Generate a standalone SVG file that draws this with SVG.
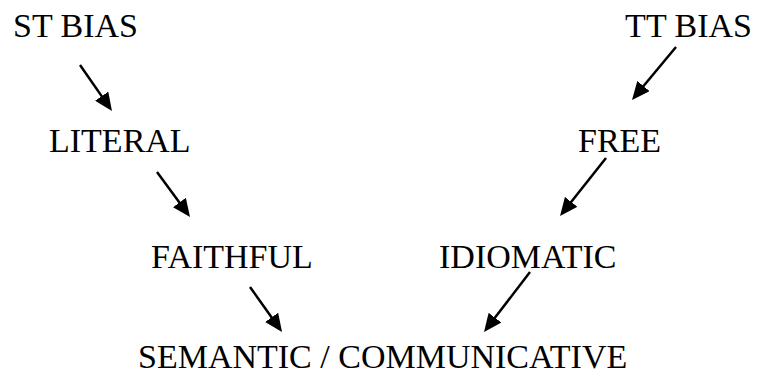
<svg xmlns="http://www.w3.org/2000/svg" width="758" height="385" viewBox="0 0 758 385">
<style>
text{font-family:"Liberation Serif","Times New Roman",serif;font-size:34px;fill:#000}
.c line{stroke:#000;stroke-width:2.5;marker-end:url(#ah)}
</style>
<defs>
<marker id="ah" markerUnits="userSpaceOnUse" markerWidth="18" markerHeight="16" refX="10" refY="8" orient="auto">
<path d="M0,0 L18,8 L0,16 z" fill="#000"/>
</marker>
</defs>
<rect width="758" height="385" fill="#fff"/>
<g id="st-bias"><text x="13" y="37">ST BIAS</text></g>
<g id="tt-bias"><text x="752" y="37" text-anchor="end">TT BIAS</text></g>
<g id="literal"><text x="49" y="152">LITERAL</text></g>
<g id="free"><text x="578" y="152">FREE</text></g>
<g id="faithful"><text x="151" y="268">FAITHFUL</text></g>
<g id="idiomatic"><text x="439" y="268">IDIOMATIC</text></g>
<g id="semantic-communicative"><text x="138" y="368">SEMANTIC / COMMUNICATIVE</text></g>
<g class="c" id="connectors">
<line x1="80" y1="65" x2="107.4" y2="104.4"/>
<line x1="676" y1="47" x2="637.1" y2="93.8"/>
<line x1="157" y1="172" x2="185.3" y2="210.6"/>
<line x1="606" y1="158" x2="565" y2="209.7"/>
<line x1="250" y1="287" x2="277.4" y2="325.5"/>
<line x1="530" y1="272" x2="488.9" y2="325.6"/>
</g>
</svg>
